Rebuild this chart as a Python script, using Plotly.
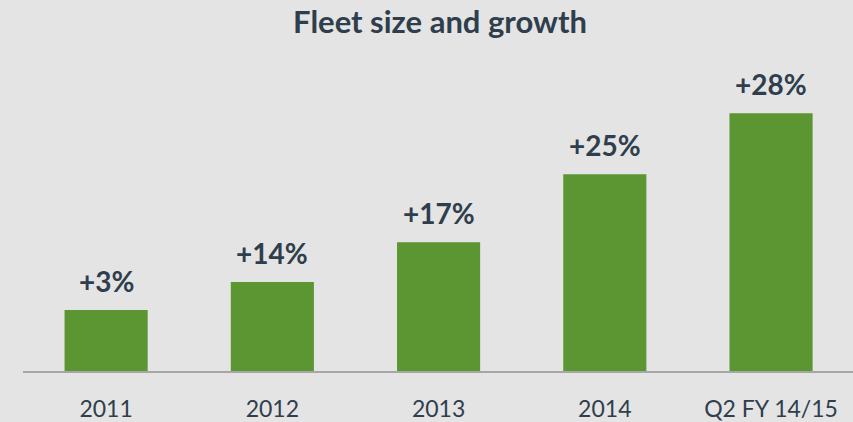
import plotly.graph_objects as go

categories = ["2011", "2012", "2013", "2014", "Q2 FY 14/15"]
fleet_size = [61.5, 89.5, 129.5, 198, 259.5]
growth_labels = ["+3%", "+14%", "+17%", "+25%", "+28%"]

BG = "#e4e4e4"
BAR = "#5b9632"
TXT = "#2f3e4c"
FONT = "Lato"

fig = go.Figure()
fig.add_trace(go.Bar(
    x=list(range(len(categories))),
    y=fleet_size,
    width=0.5,
    marker=dict(color=BAR, line=dict(width=0)),
    hoverinfo="skip",
))

for i, (v, lab) in enumerate(zip(fleet_size, growth_labels)):
    fig.add_annotation(
        x=i, y=v, text=f"<b>{lab}</b>", showarrow=False,
        xref="x", yref="y", yanchor="bottom", yshift=10,
        font=dict(family=FONT, size=28, color=TXT),
    )

fig.update_layout(
    width=853, height=422,
    paper_bgcolor=BG, plot_bgcolor=BG,
    margin=dict(l=23, r=0, t=60, b=49),
    showlegend=False,
    title=dict(
        text="<b>Fleet size and growth</b>",
        x=440 / 853, xanchor="center",
        y=1 - 22 / 422, yanchor="middle", yref="container",
        font=dict(family=FONT, size=31, color=TXT),
    ),
    xaxis=dict(
        tickmode="array",
        tickvals=list(range(len(categories))),
        ticktext=categories,
        range=[-0.5, 4.493],
        showgrid=False, zeroline=False,
        showline=True, linecolor="#a6a6a6", linewidth=2,
        ticks="", ticklabelstandoff=16,
        tickfont=dict(family=FONT, size=23, color=TXT),
        fixedrange=True,
    ),
    yaxis=dict(
        range=[0, 313], visible=False, showgrid=False, zeroline=False,
        fixedrange=True,
    ),
)

fig.write_html(
    "out.html",
    config={"displayModeBar": False},
    post_script="document.body.style.margin='0';document.body.style.overflow='hidden';",
)
